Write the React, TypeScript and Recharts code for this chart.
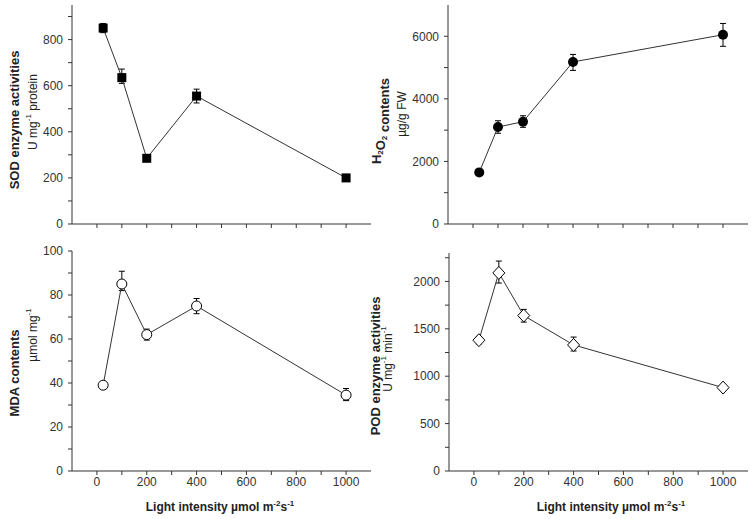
import { LineChart, Line, XAxis, YAxis, ErrorBar } from 'recharts';

// light intensity (µmol m-2 s-1)
const lightLevels = [25, 100, 200, 400, 1000];
const podLight = [20, 100, 200, 400, 1000];
const xTicks = [0, 100, 200, 300, 400, 500, 600, 700, 800, 900, 1000];

const sodValues = [850, 635, 285, 555, 200];
const sodErrors = [[20, 20], [25, 37], [10, 10], [30, 30], [8, 8]];
const sodTicks = [0, 100, 200, 300, 400, 500, 600, 700, 800, 900];

const h2o2Values = [1650, 3100, 3270, 5180, 6050];
const h2o2Errors = [[80, 80], [200, 200], [180, 190], [270, 240], [370, 360]];
const h2o2Ticks = [0, 1000, 2000, 3000, 4000, 5000, 6000];

const mdaValues = [39, 85, 62, 75, 34.5];
const mdaErrors = [[1, 1], [3, 5.8], [2.5, 2.5], [3.5, 3.4], [2.5, 3]];
const mdaTicks = [0, 10, 20, 30, 40, 50, 60, 70, 80, 90, 100];

const podValues = [1380, 2090, 1640, 1330, 880];
const podErrors = [[40, 40], [107, 125], [69, 65], [64, 83], [20, 20]];
const podTicks = [0, 250, 500, 750, 1000, 1250, 1500, 1750, 2000, 2250];

const FONT = '"Liberation Sans", Arial, sans-serif';
const AXIS = '#333';

const rows = (xs: number[], ys: number[], errs: number[][]) =>
  xs.map((x, i) => ({ x, y: ys[i], err: errs[i] }));

const squareDot = (p: any) => (
  <rect key={p.index} x={p.cx - 4.5} y={p.cy - 4.5} width={9} height={9} fill="#000" />
);
const circleDot = (p: any) => <circle key={p.index} cx={p.cx} cy={p.cy} r={5} fill="#000" />;
const openCircleDot = (p: any) => (
  <circle key={p.index} cx={p.cx} cy={p.cy} r={5} fill="#fff" stroke="#000" strokeWidth={1} />
);
const diamondDot = (p: any) => (
  <path
    key={p.index}
    d={`M${p.cx},${p.cy - 6.5} L${p.cx + 6},${p.cy} L${p.cx},${p.cy + 6.5} L${p.cx - 6},${p.cy} Z`}
    fill="#fff"
    stroke="#000"
    strokeWidth={1}
  />
);

function Panel({ data, left, top, height, margin, yDomain, yTicks, labelStep, showX, dot }: any) {
  const tickStyle = { fontSize: 12, fill: '#333', fontFamily: FONT };
  return (
    <div style={{ position: 'absolute', left, top }}>
      <LineChart width={377} height={height} data={data} margin={margin}>
        <XAxis
          type="number"
          dataKey="x"
          domain={[-100, 1100]}
          ticks={xTicks}
          interval={0}
          tickSize={4}
          height={showX ? 30 : 16}
          stroke={AXIS}
          tick={tickStyle}
          tickFormatter={(v: number) => (showX && v % 200 === 0 ? String(v) : '')}
          allowDataOverflow
        />
        <YAxis
          type="number"
          domain={yDomain}
          ticks={yTicks}
          interval={0}
          tickSize={4}
          tickMargin={5}
          width={40}
          stroke={AXIS}
          tick={tickStyle}
          tickFormatter={(v: number) => (v % labelStep === 0 ? String(v) : '')}
          allowDataOverflow
        />
        <Line dataKey="y" stroke="#333" strokeWidth={1} dot={dot} isAnimationActive={false}>
          <ErrorBar dataKey="err" direction="y" width={3} stroke="#000" strokeWidth={1} isAnimationActive={false} />
        </Line>
      </LineChart>
    </div>
  );
}

function Sup({ children }: any) {
  return (
    <>
      <tspan dy={-5} fontSize={8}>{children}</tspan>
      <tspan dy={5}> </tspan>
    </>
  );
}

function Sub({ children }: any) {
  return (
    <>
      <tspan dy={4} fontSize={8}>{children}</tspan>
      <tspan dy={-4}></tspan>
    </>
  );
}

function VText({ x, y, bold, children }: any) {
  return (
    <text
      transform={`translate(${x},${y}) rotate(-90)`}
      textAnchor="middle"
      dominantBaseline="central"
      fontFamily={FONT}
      fontSize={bold ? 13 : 12}
      fontWeight={bold ? 'bold' : 'normal'}
      fill="#222"
    >
      {children}
    </text>
  );
}

function XLabel({ x }: any) {
  return (
    <text x={x} y={511} textAnchor="middle" fontFamily={FONT} fontSize={12} fontWeight="bold" fill="#222">
      Light intensity µmol m<tspan dy={-5} fontSize={8}>-2</tspan>
      <tspan dy={5}>s</tspan>
      <tspan dy={-5} fontSize={8}>-1</tspan>
    </text>
  );
}

export default function App() {
  return (
    <div style={{ position: 'absolute', left: 0, top: 0, width: 754, height: 519, background: '#fff' }}>
      <Panel
        data={rows(lightLevels, sodValues, sodErrors)}
        left={0}
        top={0}
        height={240}
        margin={{ top: 5, right: 6, left: 32, bottom: 0 }}
        yDomain={[0, 950]}
        yTicks={sodTicks}
        labelStep={200}
        showX={false}
        dot={squareDot}
      />
      <Panel
        data={rows(lightLevels, h2o2Values, h2o2Errors)}
        left={377}
        top={0}
        height={240}
        margin={{ top: 5, right: 6, left: 31, bottom: 0 }}
        yDomain={[0, 7000]}
        yTicks={h2o2Ticks}
        labelStep={2000}
        showX={false}
        dot={circleDot}
      />
      <Panel
        data={rows(lightLevels, mdaValues, mdaErrors)}
        left={0}
        top={240}
        height={279}
        margin={{ top: 11, right: 6, left: 32, bottom: 18 }}
        yDomain={[0, 100]}
        yTicks={mdaTicks}
        labelStep={20}
        showX
        dot={openCircleDot}
      />
      <Panel
        data={rows(podLight, podValues, podErrors)}
        left={377}
        top={240}
        height={279}
        margin={{ top: 13, right: 6, left: 32, bottom: 18 }}
        yDomain={[0, 2300]}
        yTicks={podTicks}
        labelStep={500}
        showX
        dot={diamondDot}
      />
      <svg width={754} height={519} style={{ position: 'absolute', left: 0, top: 0, pointerEvents: 'none' }}>
        <VText x={14} y={120} bold>SOD enzyme activities</VText>
        <VText x={33} y={112}>
          U mg<Sup>-1</Sup>protein
        </VText>
        <VText x={376} y={121} bold>
          H<Sub>2</Sub>O<Sub>2</Sub> contents
        </VText>
        <VText x={402} y={114}>µg/g FW</VText>
        <VText x={14} y={373} bold>MDA contents</VText>
        <VText x={33} y={335}>
          µmol mg<tspan dy={-5} fontSize={8}>-1</tspan>
        </VText>
        <VText x={375} y={366} bold>POD enzyme activities</VText>
        <VText x={388} y={359}>
          U mg<Sup>-1</Sup>min<tspan dy={-5} fontSize={8}>-1</tspan>
        </VText>
        <XLabel x={220} />
        <XLabel x={611} />
      </svg>
    </div>
  );
}
